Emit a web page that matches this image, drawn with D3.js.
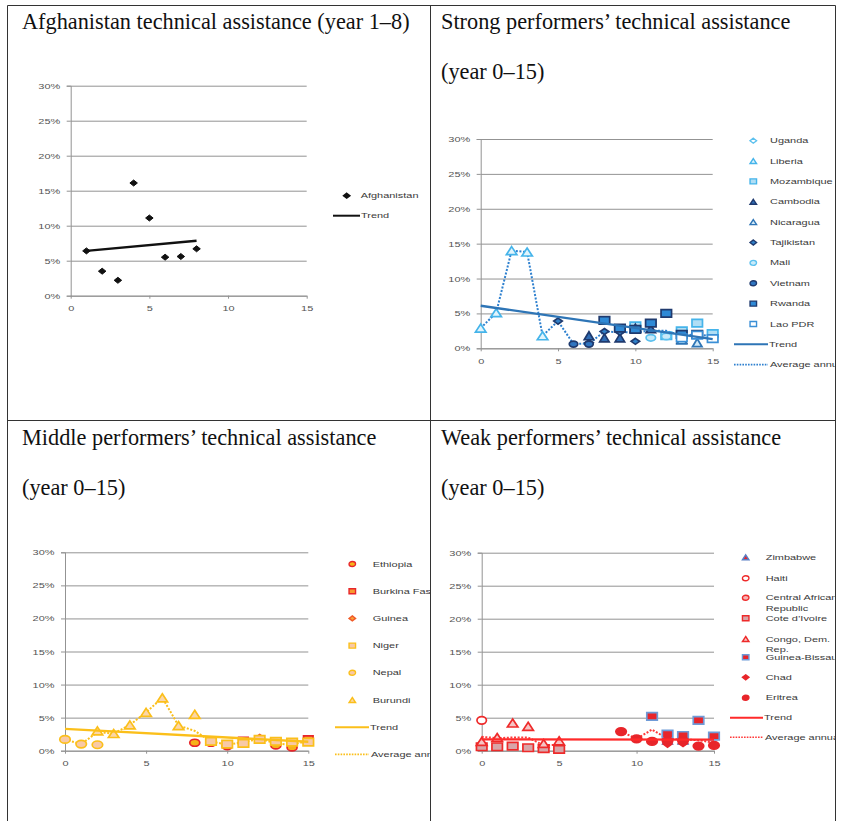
<!DOCTYPE html>
<html><head><meta charset="utf-8">
<script src="https://cdn.jsdelivr.net/npm/d3@7"></script>
<style>body{margin:0;background:#fff}svg{display:block}</style>
</head><body>
<svg id="c" width="841" height="821"></svg>
<script>
// ---------------- DATA ----------------
const years = [0,1,2,3,4,5,6,7,8,9,10,11,12,13,14,15];
const xTicks = [0,5,10,15];
const yTicks = [0,5,10,15,20,25,30];
const titles = [
  ["Afghanistan technical assistance (year 1\u20138)"],
  ["Strong performers\u2019 technical assistance", "(year 0\u201315)"],
  ["Middle performers\u2019 technical assistance", "(year 0\u201315)"],
  ["Weak performers\u2019 technical assistance", "(year 0\u201315)"]
];
const trendLabel = "Trend";
const avgLabel = "Average annual";

// Afghanistan (years 1-8)
const afghanYears = [1,2,3,4,5,6,7,8];
const afghanistan = [6.4,3.5,2.2,16.1,11.1,5.5,5.6,6.7];
const afghanTrendYears = [1,8];
const afghanTrend = [6.4,7.85];

// Strong performers (index = year 0..15)
const _ = null;
const strongNames = ["Uganda","Liberia","Mozambique","Cambodia","Nicaragua","Tajikistan","Mali","Vietnam","Rwanda","Lao PDR"];
const uganda     = [_,_,_,_,_,_,_,_,_,_,_,_,1.8,2.2,_,_];
const liberia    = [2.9,5.1,14.0,13.8,1.8,_,_,_,_,_,_,_,_,_,_,_];
const mozambique = [_,_,_,_,_,_,_,_,_,_,3.2,_,1.8,2.5,3.6,2.1];
const cambodia   = [_,_,_,_,_,_,_,1.8,1.5,1.5,2.9,2.8,_,1.3,_,_];
const nicaragua  = [_,_,_,_,_,_,_,_,_,_,_,_,_,1.2,0.8,_];
const tajikistan = [_,_,_,_,_,3.9,_,0.8,2.4,2.3,1.0,_,_,_,_,_];
const mali       = [_,_,_,_,_,_,_,_,_,_,_,1.5,1.7,_,_,_];
const vietnam    = [_,_,_,_,_,_,0.6,0.6,_,_,_,_,_,_,_,_];
const rwanda     = [_,_,_,_,_,_,_,_,4.0,2.9,2.7,3.6,5.0,2.0,2.0,_];
const laoPdr     = [_,_,_,_,_,_,_,_,_,_,_,_,_,1.5,1.9,1.4];
const strongAvg  = [2.9,5.1,14.0,13.8,1.8,3.9,0.6,0.7,2.4,2.3,2.3,2.5,2.5,1.8,2.0,1.7];
const strongTrend = [6.1,1.3];   // at year 0 and 15

// Middle performers
const middleNames = ["Ethiopia","Burkina Faso","Guinea","Niger","Nepal","Burundi"];
const ethiopia    = [_,_,_,_,_,_,_,_,1.2,1.2,0.7,_,_,0.8,0.5,_];
const burkinaFaso = [_,_,_,_,_,_,_,_,_,_,_,1.5,_,_,_,1.7];
const guinea      = [_,_,_,_,_,_,_,_,_,_,_,_,2.0,_,_,_];
const niger       = [_,_,_,_,_,_,_,_,_,1.4,1.0,1.1,1.7,1.4,1.3,1.3];
const nepal       = [1.7,1.0,0.9,_,_,_,_,_,_,_,_,_,_,_,_,_];
const burundi     = [_,_,3.0,2.6,3.9,5.8,8.0,3.8,5.5,_,_,_,_,_,_,_];
const middleAvg   = [1.7,1.0,2.8,2.6,3.9,5.8,8.0,3.8,3.0,1.4,0.9,1.3,1.8,1.1,0.9,1.5];
const middleTrend = [3.3,1.35];

// Weak performers
const weakNames = ["Zimbabwe","Haiti","Central African Republic","Cote d\u2019Ivoire","Congo, Dem. Rep.","Guinea-Bissau","Chad","Eritrea"];
const zimbabwe     = [_,_,_,_,_,_,_,_,_,_,_,_,1.6,1.6,_,_];
const haiti        = [4.6,_,_,_,_,_,_,_,_,_,_,_,_,_,_,_];
const car          = [_,_,_,_,_,_,_,_,_,_,_,_,1.9,_,_,_];
const coteDIvoire  = [0.6,0.6,0.7,0.45,0.3,0.2,_,_,_,_,_,_,_,_,_,_];
const congo        = [1.4,2.0,4.2,3.7,1.1,1.5,_,_,_,_,_,_,_,_,_,_];
const guineaBissau = [_,_,_,_,_,_,_,_,_,_,_,5.2,2.5,2.3,4.6,2.2];
const chad         = [_,_,_,_,_,_,_,_,_,_,_,_,1.0,1.1,_,0.8];
const eritrea      = [_,_,_,_,_,_,_,_,_,2.9,1.8,1.4,1.5,1.5,0.7,0.8];
const weakAvg      = [2.1,1.9,2.0,2.0,0.8,0.9,_,_,_,2.9,1.8,3.2,1.8,1.7,1.6,1.2];
const weakTrend    = [1.72,1.68];

// ---------------- RENDER ----------------
const svg = d3.select('#c');
const defs = svg.append('defs');
const SX = 1.5;            // horizontal stretch of embedded chart text
const FS = 7.3;
const FONT = "'Liberation Sans', Arial, sans-serif";

const cells = [
  {x:8, y:6, w:422, h:414},
  {x:431, y:6, w:404, h:414},
  {x:8, y:421, w:422, h:400},
  {x:431, y:421, w:404, h:400}
];
cells.forEach((c,i)=>{
  defs.append('clipPath').attr('id','cl'+i).append('rect')
    .attr('x',c.x).attr('y',c.y).attr('width',c.w).attr('height',c.h);
});

function markerPath(shape,w,h){
  const a=w/2,b=h/2;
  if(shape==='square') return `M${-a},${-b}H${a}V${b}H${-a}Z`;
  if(shape==='triangle') return `M0,${-b}L${a},${b}L${-a},${b}Z`;
  if(shape==='diamond') return `M0,${-b}L${a},0L0,${b}L${-a},0Z`;
  return `M${-a},0A${a},${b} 0 1,0 ${a},0A${a},${b} 0 1,0 ${-a},0Z`;
}
function stext(g,x,y,str,anchor,opts={}){
  return g.append('text')
    .attr('transform',`translate(${x},${y}) scale(${SX},1)`)
    .attr('text-anchor',anchor||'start')
    .attr('font-family',FONT).attr('font-size',opts.size||FS)
    .attr('fill',opts.fill||'#3a3a3a').text(str);
}

function drawPanel(p){
  const g = svg.append('g').attr('clip-path',`url(#cl${p.cell})`);
  // title
  p.title.forEach((t,i)=>{
    g.append('text').attr('x',p.titleX).attr('y',p.titleY[i])
      .attr('font-family',"'Liberation Serif','Times New Roman',serif")
      .attr('font-size',22.3).attr('fill','#111').text(t);
  });
  const x = d3.scaleLinear().domain([0,15]).range(p.xr);
  const y = d3.scaleLinear().domain([0,30]).range(p.yr);
  const pw = p.xr[1]-p.xr[0];
  // grid
  const grid = g.append('g').attr('transform',`translate(${p.xr[0]},0)`)
    .call(d3.axisLeft(y).tickValues(yTicks).tickSizeInner(-pw).tickSizeOuter(0).tickFormat(''));
  grid.select('.domain').remove();
  grid.selectAll('line').attr('stroke','#939393').attr('stroke-width',1);
  // y axis with outside ticks + labels
  const ya = g.append('g').attr('transform',`translate(${p.xr[0]},0)`)
    .call(d3.axisLeft(y).tickValues(yTicks).tickSize(4).tickFormat(d=>d+'%'));
  ya.select('.domain').attr('stroke','#939393');
  ya.selectAll('line').attr('stroke','#939393');
  ya.selectAll('text').attr('x',null).attr('dy',null)
    .attr('transform',`translate(-10.5,2.5) scale(${SX},1)`)
    .attr('font-family',FONT).attr('font-size',FS).attr('fill','#555');
  // x axis
  const xa = g.append('g').attr('transform',`translate(0,${p.yr[0]})`)
    .call(d3.axisBottom(x).tickValues(xTicks).tickSizeInner(3).tickSizeOuter(0));
  xa.select('.domain').attr('stroke','#939393');
  xa.selectAll('line').attr('stroke','#939393');
  xa.selectAll('text').attr('y',null).attr('dy',null)
    .attr('transform',`translate(0,15.5) scale(${SX},1)`)
    .attr('font-family',FONT).attr('font-size',FS).attr('fill','#555');
  ya.attr('font-size',null); xa.attr('font-size',null);

  const line = d3.line().defined(d=>d[1]!=null).x(d=>x(d[0])).y(d=>y(d[1]));
  // average line
  if(p.avg){
    g.append('path').datum(p.avgX.map((yr,i)=>[yr,p.avg[i]]))
      .attr('d',line).attr('fill','none').attr('stroke',p.avgColor)
      .attr('stroke-width',2).attr('stroke-dasharray','2,1.6');
  }
  // markers
  p.series.forEach(s=>{
    const pts = s.xs.map((yr,i)=>[yr,s.values[i]]).filter(d=>d[1]!=null);
    g.selectAll(null).data(pts).enter().append('path')
      .attr('d',markerPath(s.shape,s.w,s.h))
      .attr('transform',d=>`translate(${x(d[0])},${y(d[1])})`)
      .attr('fill',s.fill).attr('stroke',s.stroke).attr('stroke-width',s.sw||1.7);
  });
  // trend line
  g.append('path').datum(p.trendX.map((yr,i)=>[yr,p.trend[i]]))
    .attr('d',line).attr('fill','none').attr('stroke',p.trendColor).attr('stroke-width',2.3);

  // legend
  const L = p.legend;
  p.series.forEach((s,i)=>{
    const ly = L.rows[i];
    g.append('path').attr('d',markerPath(s.shape,s.lw||6.5,s.lh||5))
      .attr('transform',`translate(${L.mx},${ly})`)
      .attr('fill',s.fill).attr('stroke',s.stroke).attr('stroke-width',1.4);
    const words = s.name;
    let lines=[words];
    if(words.length>15){
      const cut = words.lastIndexOf(' ',15);
      lines=[words.slice(0,cut),words.slice(cut+1)];
    }
    lines.forEach((t,j)=>stext(g,L.tx,ly+2.6+j*10.5,t));
  });
  const nS = p.series.length;
  const ty = L.rows[nS];
  g.append('line').attr('x1',L.l1).attr('x2',L.l2).attr('y1',ty).attr('y2',ty)
    .attr('stroke',p.trendColor).attr('stroke-width',2);
  stext(g,L.l2+1,ty+2.6,trendLabel);
  if(p.avg){
    const ay = L.rows[nS+1];
    g.append('line').attr('x1',L.l1).attr('x2',L.l2).attr('y1',ay).attr('y2',ay)
      .attr('stroke',p.avgColor).attr('stroke-width',1.6).attr('stroke-dasharray','1.6,1.2');
    stext(g,L.l2+2,ay+2.6,avgLabel);
  }
}

const S = (name,values,shape,stroke,fill,w,h,extra={}) =>
  Object.assign({name,values,xs:years,shape,stroke,fill,w,h},extra);

// Panel 1
drawPanel({
  cell:0, title:titles[0], titleX:22, titleY:[29],
  xr:[70.7,306.7], yr:[295.7,85.7],
  series:[Object.assign(S("Afghanistan",afghanistan,'diamond','#111','#111',7.5,6,{sw:1}),{xs:afghanYears})],
  trend:afghanTrend, trendX:afghanTrendYears, trendColor:'#111',
  legend:{mx:346.7, tx:360.7, rows:[195.7,215.7], l1:333, l2:360}
});

// Panel 2
const strongValues=[uganda,liberia,mozambique,cambodia,nicaragua,tajikistan,mali,vietnam,rwanda,laoPdr];
const strongStyle=[
  ['diamond','#5bc0ee','#ffffff',6,5],
  ['triangle','#45b4ea','#e2f4fc',10.5,8],
  ['square','#45b4ea','#b0def5',10.5,7.5],
  ['triangle','#1f3a6e','#2f6db5',9.5,8],
  ['triangle','#2e75b6','#cfe8f7',9.5,8],
  ['diamond','#1f3a6e','#2f80c8',8.5,6],
  ['circle','#5bc0ee','#c8eaf9',9.5,6.5],
  ['circle','#1f3a6e','#2f75c0',8.5,6],
  ['square','#1f3a6e','#2f8ad6',10.5,7.5],
  ['square','#3a8fd6','#ffffff',10.5,7.5]
];
drawPanel({
  cell:1, title:titles[1], titleX:441, titleY:[29,79],
  xr:[480.7,712.7], yr:[348.3,139],
  series:strongNames.map((n,i)=>S(n,strongValues[i],...strongStyle[i])),
  avg:strongAvg, avgX:years, avgColor:'#2e80cf',
  trend:strongTrend, trendX:[0,15], trendColor:'#2e75b6',
  legend:{mx:753.3, tx:770, rows:d3.range(12).map(i=>140.7+i*20.36), l1:734, l2:768}
});

// Panel 3
const middleValues=[ethiopia,burkinaFaso,guinea,niger,nepal,burundi];
const middleStyle=[
  ['circle','#e8252a','#f6b21a',10,7],
  ['square','#e8252a','#f79a2e',9.5,7],
  ['diamond','#f05a28','#f7a13a',8.5,6],
  ['square','#fbbf1a','#f8c9a6',10.5,7.5],
  ['circle','#fbbf1a','#f8c9a6',10.5,7.5],
  ['triangle','#fbbf1a','#fbd6a8',10.5,8]
];
drawPanel({
  cell:2, title:titles[2], titleX:22, titleY:[445,495],
  xr:[65,308.3], yr:[750.7,552.3],
  series:middleNames.map((n,i)=>S(n,middleValues[i],...middleStyle[i])),
  avg:middleAvg, avgX:years, avgColor:'#fbbf1a',
  trend:middleTrend, trendX:[0,15], trendColor:'#fbbf1a',
  legend:{mx:352.3, tx:372.7, rows:d3.range(8).map(i=>564+i*27.2), l1:335, l2:369}
});

// Panel 4
const weakValues=[zimbabwe,haiti,car,coteDIvoire,congo,guineaBissau,chad,eritrea];
const weakStyle=[
  ['triangle','#5a7fc4','#e8252a',9.5,7.5],
  ['circle','#ee2a2a','#ffffff',9.5,7.5],
  ['circle','#ee2a2a','#f7b3b3',9.5,7.5],
  ['square','#ee2a2a','#d8a5a8',10.5,7.5],
  ['triangle','#ee2a2a','#f6c4c4',10.5,8],
  ['square','#6f9bd8','#e8252a',10.5,7.5],
  ['diamond','#e8252a','#e8252a',8.5,6],
  ['circle','#e8252a','#e8252a',10.5,7.5]
];
drawPanel({
  cell:3, title:titles[3], titleX:441, titleY:[445,495],
  xr:[481.7,714], yr:[750.7,552.7],
  series:weakNames.map((n,i)=>S(n,weakValues[i],...weakStyle[i])),
  avg:weakAvg, avgX:years, avgColor:'#ff3a3a',
  trend:weakTrend, trendX:[0,15], trendColor:'#ff2a2a',
  legend:{mx:745.7, tx:765.7, rows:[557.3,578.3,597.7,618.3,639,657.3,677.3,697.7,717.7,737.3], l1:730, l2:763}
});

// table borders
const B = svg.append('g').attr('stroke','#333').attr('stroke-width',1);
[[7.5,5.5,835.5,5.5],[7.5,420.5,835.5,420.5],[7.5,5.5,7.5,821],[430.5,5.5,430.5,821],[835.5,5.5,835.5,821]]
  .forEach(l=>B.append('line').attr('x1',l[0]).attr('y1',l[1]).attr('x2',l[2]).attr('y2',l[3]));
</script>
</body></html>
